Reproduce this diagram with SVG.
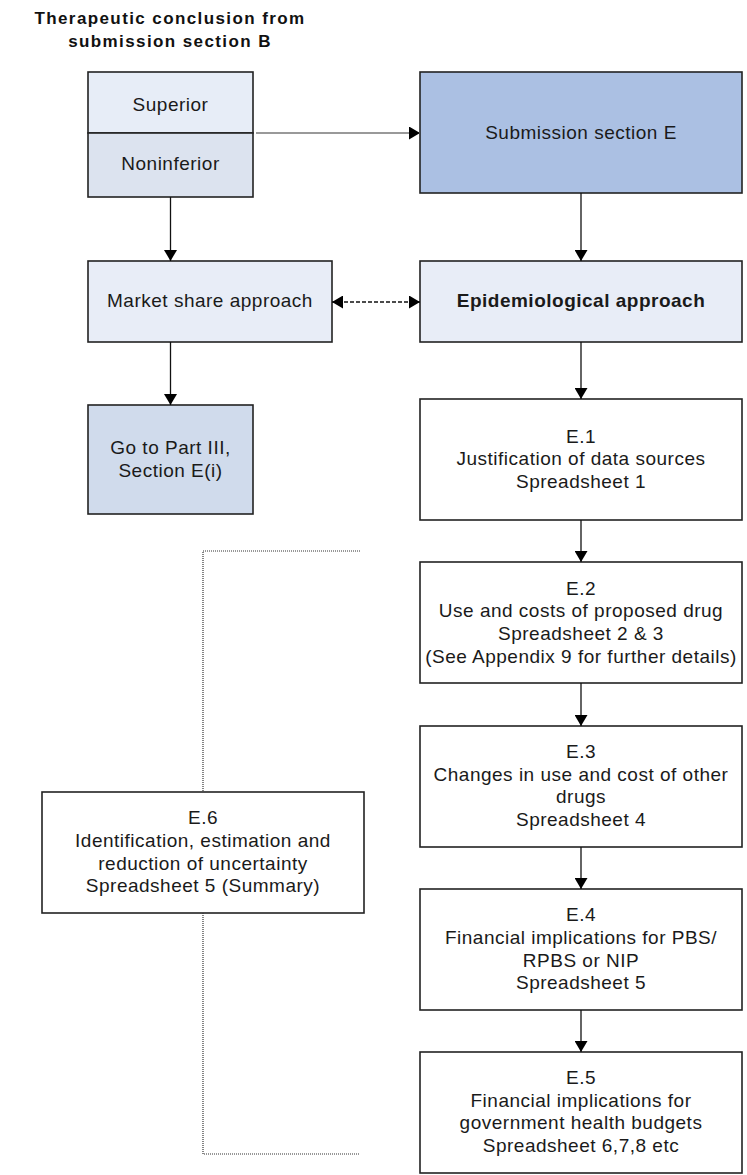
<svg xmlns="http://www.w3.org/2000/svg" width="747" height="1175" viewBox="0 0 747 1175">
  <style>
    .box { stroke: #222; stroke-width: 1.6; }
    .plain { fill: #ffffff; }
    .lite { fill: #e8edf7; }
    .mid { fill: #d0dbec; }
    .dark { fill: #abc0e3; }
    text { font-family: "Liberation Sans", Arial, sans-serif; font-size: 19px; letter-spacing: 0.5px; fill: #1a1a1a; text-anchor: middle; }
    .bold { font-weight: bold; }
    .title { font-weight: bold; font-size: 17px; letter-spacing: 1.4px; fill: #111; }
    .flow { stroke: #111; stroke-width: 1.3; fill: none; }
    .grey { stroke: #777; }
    .dash { stroke-dasharray: 4 2; }
    .dot { stroke: #333; stroke-width: 1.2; stroke-dasharray: 1 1; fill: none; }
  </style>
  <defs>
    <marker id="head" markerWidth="12" markerHeight="13" refX="11" refY="6.5" orient="auto" markerUnits="userSpaceOnUse">
      <path d="M0,0 L11,6.5 L0,13 Z" fill="#000"/>
    </marker>
    <marker id="tail" markerWidth="12" markerHeight="13" refX="0" refY="6.5" orient="auto" markerUnits="userSpaceOnUse">
      <path d="M11,0 L0,6.5 L11,13 Z" fill="#000"/>
    </marker>
  </defs>

  <rect width="747" height="1175" fill="#ffffff"/>

  <g id="heading">
    <text class="title" x="170" y="24">Therapeutic conclusion from</text>
    <text class="title" x="170" y="47">submission section B</text>
  </g>

  <g id="conclusion">
    <rect class="box" x="88" y="72" width="165" height="61" fill="#e7edf7"/>
    <rect class="box" x="88" y="133" width="165" height="64" fill="#dce3ef"/>
    <text x="170.5" y="111">Superior</text>
    <text x="170.5" y="170">Noninferior</text>
  </g>

  <g id="section-e">
    <rect class="box dark" x="420" y="72" width="322" height="121"/>
    <text x="581" y="139">Submission section E</text>
  </g>

  <g id="market-share">
    <rect class="box lite" x="88" y="261" width="244" height="81"/>
    <text x="210" y="307">Market share approach</text>
  </g>

  <g id="epidemiological">
    <rect class="box lite" x="420" y="261" width="322" height="81"/>
    <text class="bold" x="581" y="307">Epidemiological approach</text>
  </g>

  <g id="part-three">
    <rect class="box mid" x="88" y="405" width="165" height="109"/>
    <text x="170.5" y="454">Go to Part III,</text>
    <text x="170.5" y="477">Section E(i)</text>
  </g>

  <g id="e1">
    <rect class="box plain" x="420" y="399" width="322" height="121"/>
    <text x="581" y="443">E.1</text>
    <text x="581" y="465">Justification of data sources</text>
    <text x="581" y="488">Spreadsheet 1</text>
  </g>

  <g id="e2">
    <rect class="box plain" x="420" y="562" width="322" height="121"/>
    <text x="581" y="595">E.2</text>
    <text x="581" y="617">Use and costs of proposed drug</text>
    <text x="581" y="640">Spreadsheet 2 &amp; 3</text>
    <text x="581" y="663">(See Appendix 9 for further details)</text>
  </g>

  <g id="e3">
    <rect class="box plain" x="420" y="726" width="322" height="121"/>
    <text x="581" y="758">E.3</text>
    <text x="581" y="781">Changes in use and cost of other</text>
    <text x="581" y="803">drugs</text>
    <text x="581" y="826">Spreadsheet 4</text>
  </g>

  <g id="e4">
    <rect class="box plain" x="420" y="889" width="322" height="121"/>
    <text x="581" y="921">E.4</text>
    <text x="581" y="944">Financial implications for PBS/</text>
    <text x="581" y="967">RPBS or NIP</text>
    <text x="581" y="989">Spreadsheet 5</text>
  </g>

  <g id="e5">
    <rect class="box plain" x="420" y="1052" width="322" height="121"/>
    <text x="581" y="1084">E.5</text>
    <text x="581" y="1107">Financial implications for</text>
    <text x="581" y="1129">government health budgets</text>
    <text x="581" y="1152">Spreadsheet 6,7,8 etc</text>
  </g>

  <g id="e6">
    <rect class="box plain" x="42" y="792" width="322" height="121"/>
    <text x="203" y="824">E.6</text>
    <text x="203" y="847">Identification, estimation and</text>
    <text x="203" y="870">reduction of uncertainty</text>
    <text x="203" y="892">Spreadsheet 5 (Summary)</text>
  </g>

  <g id="connectors">
    <line class="flow grey" x1="256" y1="133" x2="420" y2="133" marker-end="url(#head)"/>
    <line class="flow" x1="170.5" y1="197" x2="170.5" y2="261" marker-end="url(#head)"/>
    <line class="flow" x1="170.5" y1="342" x2="170.5" y2="405" marker-end="url(#head)"/>
    <line class="flow dash" x1="332" y1="302" x2="420" y2="302" marker-start="url(#tail)" marker-end="url(#head)"/>
    <line class="flow" x1="581" y1="193" x2="581" y2="261" marker-end="url(#head)"/>
    <line class="flow" x1="581" y1="342" x2="581" y2="399" marker-end="url(#head)"/>
    <line class="flow" x1="581" y1="520" x2="581" y2="562" marker-end="url(#head)"/>
    <line class="flow" x1="581" y1="683" x2="581" y2="726" marker-end="url(#head)"/>
    <line class="flow" x1="581" y1="847" x2="581" y2="889" marker-end="url(#head)"/>
    <line class="flow" x1="581" y1="1010" x2="581" y2="1052" marker-end="url(#head)"/>
    <!-- bracket tying E.6 to the E.2 to E.5 steps -->
    <path class="dot" d="M360,551 H203 V792"/>
    <path class="dot" d="M203,913 V1154 H360"/>
  </g>
</svg>
